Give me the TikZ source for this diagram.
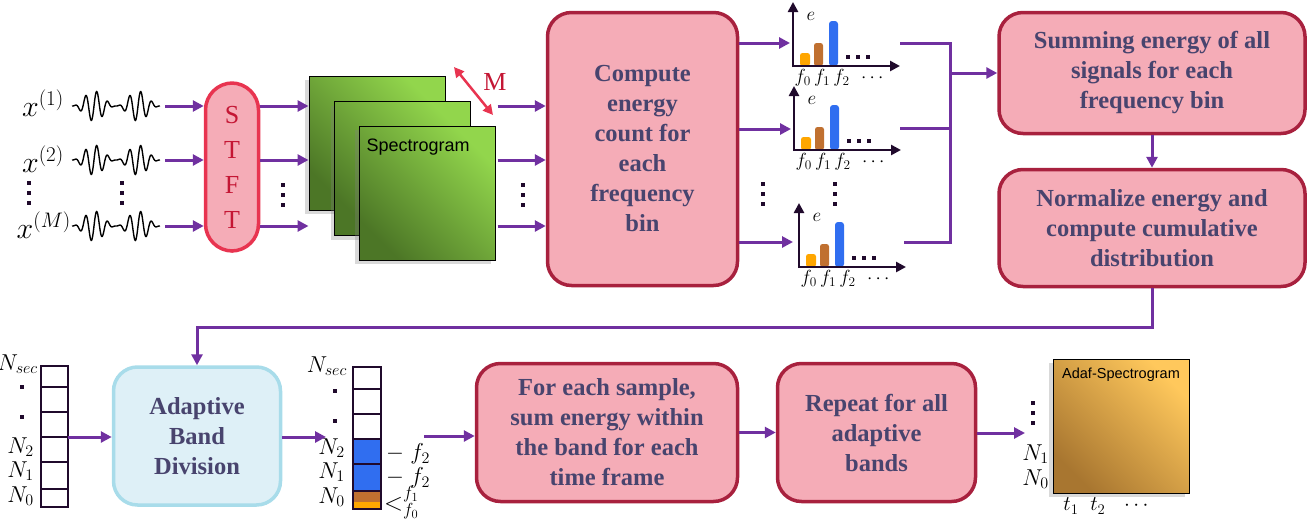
\RequirePackage{fix-cm}
\documentclass[tikz,border=0pt]{standalone}
\usepackage{fontspec}
\setmainfont{Liberation Serif}
\setsansfont{Liberation Sans}
\usetikzlibrary{arrows.meta,calc,positioning,shadows}

\definecolor{boxfill}{RGB}{245,172,183}
\definecolor{boxline}{RGB}{168,33,62}
\definecolor{boxtext}{RGB}{72,68,110}
\definecolor{stftline}{RGB}{232,52,80}
\definecolor{stfttext}{RGB}{196,22,52}
\definecolor{flowcol}{RGB}{112,48,160}
\definecolor{adafill}{RGB}{222,240,247}
\definecolor{adaline}{RGB}{168,220,234}
\definecolor{greenhi}{RGB}{146,214,76}
\definecolor{greenlo}{RGB}{76,118,38}
\definecolor{orangehi}{RGB}{255,200,92}
\definecolor{orangelo}{RGB}{168,118,48}
\definecolor{baror}{RGB}{255,166,0}
\definecolor{barbr}{RGB}{192,112,48}
\definecolor{barbl}{RGB}{48,110,240}
\definecolor{axiscol}{RGB}{32,10,44}

% signal trace, starting at (#1,#2)
\newcommand{\wave}[2]{%
  \draw[black, line width=1.4pt] plot[domain=0:88, samples=240, smooth]
    ({#1+\x}, {#2-15*sin(4.0909*\x)*sin(4.0909*\x)*sin(32.727*\x)});
}
% three square dots, top dot at (#1,#2)
\newcommand{\vdts}[2]{%
  \foreach \k in {0,1,2} \fill[axiscol] (#1-2,#2-2+10*\k) rectangle ++(4,4);
}
% energy bar chart, origin named #1
\newcommand{\echart}[3]{%
  \coordinate (#1) at (#2,#3);
  \begin{scope}[shift={(#2,#3)}]
    \fill[baror, rounded corners=2.5pt] (7,0) rectangle (17,-13);
    \fill[barbr, rounded corners=2.5pt] (21,0) rectangle (30,-23);
    \fill[barbl, rounded corners=3pt] (36,0) rectangle (45,-45);
    \foreach \k in {55,65,75} \fill[axiscol] (\k-2,-11) rectangle ++(4,4);
    \draw[chartaxis] (0,1) -- (0,-64);
    \draw[chartaxis] (-1,0) -- (107,0);
    \node[flbl] (#1-e) at (18,-50) {$e$};
    \node[flbl] (#1-f) at (46,12) {$f_0\,f_1\,f_2\;\,\cdots$};
  \end{scope}}

\begin{document}
\begin{tikzpicture}[x=1pt, y=-1pt,
  procbox/.style={draw=boxline, line width=3.5pt, fill=boxfill, rounded corners=24pt,
    text=boxtext, font=\fontsize{24.5}{30}\selectfont\bfseries, align=center, inner sep=0pt},
  adabox/.style={procbox, draw=adaline, fill=adafill},
  stftbox/.style={draw=stftline, line width=3.5pt, fill=boxfill, rounded corners=27pt,
    text=stfttext, font=\fontsize{26}{35}\selectfont, align=center, inner sep=0pt},
  specbox/.style={draw=black, line width=1pt, minimum width=136, minimum height=134,
    shading=axis, top color=greenhi, bottom color=greenlo, shading angle=-45,
    drop shadow={shadow xshift=-4pt, shadow yshift=-4pt, opacity=.3}},
  adafbox/.style={specbox, top color=orangehi, bottom color=orangelo, shading angle=-45},
  flow/.style={draw=flowcol, line width=3pt, -{Triangle[length=11pt,width=11pt]}},
  flowline/.style={draw=flowcol, line width=3pt},
  marrow/.style={draw=stftline, line width=2.5pt,
    {Triangle[length=10pt,width=10pt]}-{Triangle[length=10pt,width=10pt]}},
  chartaxis/.style={draw=axiscol, line width=2.5pt, -{Triangle[length=10pt,width=10pt]}},
  cell/.style={draw=axiscol, line width=1.2pt},
  xlbl/.style={font=\fontsize{30}{34}\selectfont, inner sep=0pt},
  mlbl/.style={font=\fontsize{23}{26}\selectfont, inner sep=0pt},
  flbl/.style={font=\fontsize{19}{22}\selectfont, inner sep=0pt},
  sflbl/.style={font=\sffamily\fontsize{18}{22}\selectfont, inner sep=0pt}]
\useasboundingbox (0,0) rectangle (1308,522);

% input signals
\node[xlbl, anchor=east] (x1) at (64,103) {$x^{(1)}$};
\node[xlbl, anchor=east] (x2) at (64,159) {$x^{(2)}$};
\node[xlbl, anchor=east] (xM) at (71,225) {$x^{(M)}$};
\wave{72}{106}
\wave{72}{160}
\wave{72}{226}
\vdts{29}{183}
\vdts{122}{183}
\coordinate (w1) at (165,106);
\coordinate (w2) at (165,160);
\coordinate (wM) at (165,226);

\node[stftbox, minimum width=53, minimum height=168] (stft) at (232,167) {S\\T\\F\\T};
\draw[flow] (w1) -- (stft.west|-w1);
\draw[flow] (w2) -- (stft.west|-w2);
\draw[flow] (wM) -- (stft.west|-wM);

% spectrogram stack
\node[specbox] (spec1) at (377,143) {};
\node[specbox] (spec2) at (402.5,168.5) {};
\node[specbox] (spec3) at (427,193) {};
\node[sflbl, anchor=west] (speclbl) at ([shift={(8,22)}]spec3.north west) {Spectrogram};
\draw[flow] (stft.east|-w1) -- (spec1.west|-w1);
\draw[flow] (stft.east|-w2) -- (spec1.west|-w2);
\draw[flow] (stft.east|-wM) -- (spec1.west|-wM);
\vdts{283}{185}

\coordinate (mA) at (454,67);
\coordinate (mB) at (493,115);
\draw[marrow] (mA) -- (mB);
\node[font=\fontsize{26}{30}\selectfont, text=stfttext, inner sep=0pt] (mtxt) at (495,82) {M};

% energy per bin
\node[procbox, minimum width=190, minimum height=273] (compute) at (642.5,149)
  {Compute\\energy\\count for\\each\\frequency\\bin};
\draw[flow] ($(spec3.east|-w1)+(2,0)$) -- (compute.west|-w1);
\draw[flow] ($(spec3.east|-w2)+(2,0)$) -- (compute.west|-w2);
\draw[flow] ($(spec3.east|-wM)+(2,0)$) -- (compute.west|-wM);
\vdts{523}{185}

\echart{chart1}{793}{66}
\echart{chart2}{794}{150}
\echart{chart3}{799}{267}
\vdts{763}{184}
\vdts{835}{184}
\coordinate (c1in) at (790,43);
\coordinate (c2in) at (791,129);
\coordinate (c3in) at (793,242);
\draw[flow] (compute.east|-c1in) -- (c1in);
\draw[flow] (compute.east|-c2in) -- (c2in);
\draw[flow] (compute.east|-c3in) -- (c3in);

% merge
\coordinate (j1) at (950,43);
\coordinate (j2) at (950,128);
\coordinate (j3) at (950,242);
\coordinate (jm) at (950,73);
\draw[flowline] (900,43) -- (j1) -- (j3) -- (904,242);
\draw[flowline] (900,128) -- (j2);

\node[procbox, minimum width=306, minimum height=121] (summing) at (1152,73)
  {Summing energy of all\\signals for each\\frequency bin};
\node[procbox, minimum width=306, minimum height=117] (normalize) at (1152,228)
  {Normalize energy and\\compute cumulative\\distribution};
\draw[flow] (jm) -- (summing.west|-jm);
\draw[flow] (summing.south) -- (normalize.north);

% band division
\node[adabox, minimum width=167, minimum height=138] (adaptive) at (197,436)
  {Adaptive\\Band\\Division};
\draw[flow] (normalize.south) -- ++(0,39) -| (adaptive.north);

% bins before
\draw[cell] (41,366) rectangle (68,507);
\foreach \yy in {387,412,437,462} \draw[cell] (41,\yy) -- (68,\yy);
\draw[cell, line width=2.5pt] (41,489) -- (68,489);
\node[mlbl, anchor=east] (lsec) at (38,364) {$N_{sec}$};
\node[mlbl, anchor=east] (l2) at (34,447) {$N_2$};
\node[mlbl, anchor=east] (l1) at (34,471) {$N_1$};
\node[mlbl, anchor=east] (l0) at (34,496) {$N_0$};
\fill[axiscol] (20,385) rectangle ++(4,4);
\fill[axiscol] (20,415) rectangle ++(4,4);
\coordinate (colL) at (68,437);
\draw[flow] (colL) -- (adaptive.west|-colL);

% bins after
\fill[barbl] (353,439) rectangle (381,491);
\fill[barbr] (353,491) rectangle (381,502);
\fill[baror] (353,502) rectangle (381,509);
\draw[cell] (353,367) rectangle (381,509);
\foreach \yy in {389,414,439,464} \draw[cell] (353,\yy) -- (381,\yy);
\draw[cell, line width=2.5pt] (353,491) -- (381,491);
\node[mlbl, anchor=east] (rsec) at (347,366) {$N_{sec}$};
\node[mlbl, anchor=east] (r2) at (345,448) {$N_2$};
\node[mlbl, anchor=east] (r1) at (345,472) {$N_1$};
\node[mlbl, anchor=east] (r0) at (345,497) {$N_0$};
\fill[axiscol] (333,389) rectangle ++(4,4);
\fill[axiscol] (333,419) rectangle ++(4,4);
\node[mlbl, anchor=west] (b2) at (386,454) {$-\;f_2$};
\node[mlbl, anchor=west] (b1) at (386,478) {$-\;f_2$};
\node[font=\fontsize{25}{28}\selectfont, inner sep=0pt, anchor=west] (b0) at (384,503)
  {${<}^{f_1}_{f_0}$};
\coordinate (colR) at (326,437);
\draw[flow] (adaptive.east|-colR) -- (colR);
\coordinate (colRout) at (424,436);

% per band energy
\node[procbox, minimum width=261, minimum height=138] (foreach) at (607,432.5)
  {For each sample,\\sum energy within\\the band for each\\time frame};
\node[procbox, minimum width=198, minimum height=138] (repeat) at (876.5,432.5)
  {Repeat for all\\adaptive\\bands};
\draw[flow] (colRout) -- (foreach.west|-colRout);
\draw[flow] (foreach.east|-repeat) -- (repeat.west);

% output
\node[adafbox] (adaf) at (1121,426) {};
\node[font=\sffamily\fontsize{14.5}{18}\selectfont, inner sep=0pt] (adaflbl)
  at ([shift={(0,16)}]adaf.north) {Adaf-Spectrogram};
\coordinate (adafin) at (1025,433);
\draw[flow] (repeat.east|-adafin) -- (adafin);
\vdts{1033}{403}
\node[mlbl, anchor=east] (o1) at (1049,454) {$N_1$};
\node[mlbl, anchor=east] (o0) at (1049,479) {$N_0$};
\node[font=\fontsize{21}{24}\selectfont, inner sep=0pt] (tlbl) at (1106,506)
  {$t_1\;\;t_2\;\;\,\cdots$};
\end{tikzpicture}
\end{document}
